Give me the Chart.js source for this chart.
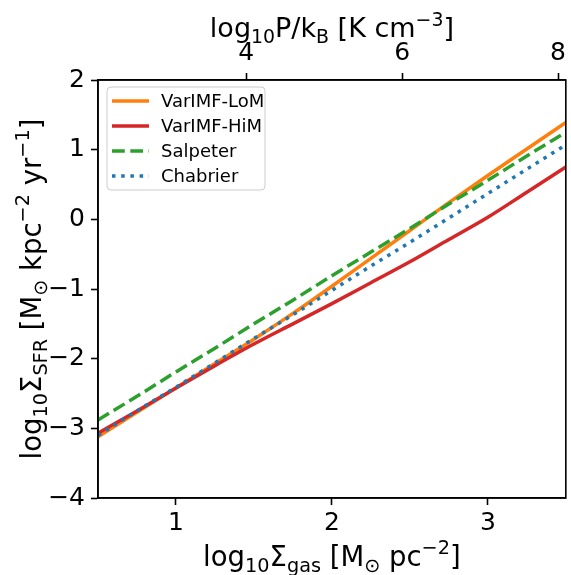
<!DOCTYPE html>
<html>
<head>
<meta charset="utf-8">
<script src="https://cdn.jsdelivr.net/npm/chart.js@4"></script>
<style>
  body { margin: 0; background: #fff; }
  #wrap { width: 571px; height: 575px; }
</style>
</head>
<body>
<div id="wrap"><canvas id="sfChart" width="571" height="575"></canvas></div>
<script>
// gas surface density grid (log10 Msun/pc^2)
const sigmaGas = [0.5, 0.75, 1.0, 1.25, 1.5, 1.75, 2.0, 2.25, 2.5, 2.75, 3.0, 3.25, 3.5];

// log10 SFR surface density for each IMF
const sfrLoM       = [-3.12, -2.77, -2.42, -2.07, -1.72, -1.35, -0.96, -0.56, -0.16, 0.24, 0.63, 1.01, 1.39];
const sfrHiM       = [-3.07, -2.75, -2.42, -2.10, -1.79, -1.50, -1.21, -0.91, -0.61, -0.29, 0.03, 0.39, 0.75];
const sfrSalpeter  = [-2.88, -2.54, -2.19, -1.85, -1.50, -1.16, -0.81, -0.47, -0.13, 0.22, 0.56, 0.91, 1.25];
const sfrChabrier  = [-3.10, -2.75, -2.41, -2.06, -1.71, -1.37, -1.02, -0.67, -0.33, 0.02, 0.37, 0.72, 1.07];

const seriesNames = ['VarIMF-LoM', 'VarIMF-HiM', 'Salpeter', 'Chabrier'];

// tick labels
const gasTicks = [1, 2, 3];
const sfrTicks = [-4, -3, -2, -1, 0, 1, 2];
const pressureTicks = [4, 6, 8];

const colors = {
  lom: '#ff7f0e',
  him: '#d62728',
  salp: '#2ca02c',
  chab: '#1f77b4'
};

const pts = (ys) => sigmaGas.map((x, i) => ({ x: x, y: ys[i] }));

const LW = 3.5;
const styles = [
  { color: colors.lom, dash: [] },
  { color: colors.him, dash: [] },
  { color: colors.salp, dash: [12.8, 5.5] },
  { color: colors.chab, dash: [3.5, 5.7] }
];

// first dataset gets drawn on top in chart.js, so Chabrier goes first
const data = {
  datasets: [
    { label: seriesNames[3], data: pts(sfrChabrier), borderColor: colors.chab, borderDash: styles[3].dash },
    { label: seriesNames[2], data: pts(sfrSalpeter), borderColor: colors.salp, borderDash: styles[2].dash },
    { label: seriesNames[1], data: pts(sfrHiM), borderColor: colors.him },
    { label: seriesNames[0], data: pts(sfrLoM), borderColor: colors.lom }
  ].map(d => Object.assign({
    borderWidth: LW, pointRadius: 0, tension: 0.2, cubicInterpolationMode: 'monotone', fill: false,
    borderCapStyle: 'butt', borderJoinStyle: 'round', xAxisID: 'x', yAxisID: 'y'
  }, d))
};

const tickFont = { family: 'DejaVu Sans', size: 25 };
const FONT = 'DejaVu Sans';
const minus = v => String(v).replace('-', '\u2212');
const setTicks = arr => scale => { scale.ticks = arr.map(v => ({ value: v })); };
const axisGrid = { display: true, drawOnChartArea: false, drawTicks: true, tickLength: 7, tickWidth: 1.6, tickColor: '#000' };
const axisBorder = { display: true, color: '#000', width: 1.6 };

// rich text: runs of {t, s} where s = 'sub' | 'sup' | undefined
function drawRich(ctx, runs, cx, y, size) {
  const widths = runs.map(r => {
    ctx.font = (r.s ? size * 0.7 : size) + 'px "' + FONT + '"';
    return ctx.measureText(r.t).width;
  });
  const total = widths.reduce((a, b) => a + b, 0);
  let x = cx - total / 2;
  ctx.textAlign = 'left';
  ctx.textBaseline = 'alphabetic';
  runs.forEach((r, i) => {
    ctx.font = (r.s ? size * 0.7 : size) + 'px "' + FONT + '"';
    let dy = 0;
    if (r.s === 'sub') dy = size * 0.22;
    if (r.s === 'sup') dy = -size * 0.42;
    ctx.fillText(r.t, x, y + dy);
    x += widths[i];
  });
}

const titleTop = [{ t: 'log' }, { t: '10', s: 'sub' }, { t: 'P/k' }, { t: 'B', s: 'sub' }, { t: ' [K cm' }, { t: '\u22123', s: 'sup' }, { t: ']' }];
const titleBottom = [{ t: 'log' }, { t: '10', s: 'sub' }, { t: '\u03A3' }, { t: 'gas', s: 'sub' }, { t: ' [M' }, { t: '\u2299', s: 'sub' }, { t: ' pc' }, { t: '\u22122', s: 'sup' }, { t: ']' }];
const titleLeft = [{ t: 'log' }, { t: '10', s: 'sub' }, { t: '\u03A3' }, { t: 'SFR', s: 'sub' }, { t: ' [M' }, { t: '\u2299', s: 'sub' }, { t: ' kpc' }, { t: '\u22122', s: 'sup' }, { t: ' yr' }, { t: '\u22121', s: 'sup' }, { t: ']' }];

const extras = {
  id: 'extras',
  afterDraw(chart) {
    const ctx = chart.ctx;
    const a = chart.chartArea;
    const cx = (a.left + a.right) / 2;
    const cy = (a.top + a.bottom) / 2;
    ctx.save();
    // frame
    ctx.strokeStyle = '#000';
    ctx.lineWidth = 1.6;
    ctx.strokeRect(a.left, a.top, a.right - a.left, a.bottom - a.top);

    // axis titles
    ctx.fillStyle = '#000';
    drawRich(ctx, titleTop, cx, 37, 27);
    drawRich(ctx, titleBottom, cx, 566, 27.5);
    ctx.save();
    ctx.translate(41, cy);
    ctx.rotate(-Math.PI / 2);
    drawRich(ctx, titleLeft, 0, 0, 27.5);
    ctx.restore();

    // legend
    const lx = 107, ly = 87, lw = 158, lh = 103;
    ctx.beginPath();
    ctx.roundRect(lx, ly, lw, lh, 4);
    ctx.fillStyle = 'rgba(255,255,255,0.8)';
    ctx.fill();
    ctx.strokeStyle = '#cccccc';
    ctx.lineWidth = 1;
    ctx.stroke();
    const rows = [101, 126, 151, 176];
    ctx.font = '18px "' + FONT + '"';
    ctx.textAlign = 'left';
    ctx.textBaseline = 'middle';
    seriesNames.forEach((name, i) => {
      ctx.beginPath();
      ctx.setLineDash(styles[i].dash);
      ctx.lineCap = 'butt';
      ctx.strokeStyle = styles[i].color;
      ctx.lineWidth = LW;
      ctx.moveTo(112, rows[i]);
      ctx.lineTo(149, rows[i]);
      ctx.stroke();
      ctx.setLineDash([]);
      ctx.fillStyle = '#000';
      ctx.fillText(name, 161, rows[i] + 1);
    });
    ctx.restore();
  }
};

const config = {
  type: 'line',
  data: data,
  options: {
    responsive: false,
    animation: false,
    layout: { padding: { right: 1.5, left: 0, top: 0, bottom: 0 } },
    plugins: { legend: { display: false }, tooltip: { enabled: false } },
    scales: {
      x: {
        type: 'linear', position: 'bottom', min: 0.5, max: 3.5,
        afterBuildTicks: setTicks(gasTicks),
        afterFit: s => { s.height = 77; },
        ticks: { font: tickFont, color: '#000', padding: 3, maxRotation: 0 },
        grid: axisGrid, border: axisBorder
      },
      x2: {
        type: 'linear', position: 'top', min: 2.1, max: 8.1,
        afterBuildTicks: setTicks(pressureTicks),
        afterFit: s => { s.height = 80; },
        ticks: { font: tickFont, color: '#000', padding: 5, maxRotation: 0 },
        grid: axisGrid, border: axisBorder
      },
      y: {
        type: 'linear', position: 'left', min: -4, max: 2,
        afterBuildTicks: setTicks(sfrTicks),
        afterFit: s => { s.width = 98; },
        ticks: { font: tickFont, color: '#000', padding: 6, callback: minus },
        grid: axisGrid, border: axisBorder
      }
    }
  },
  plugins: [extras]
};

const sfChart = new Chart(document.getElementById('sfChart'), config);
</script>
</body>
</html>
